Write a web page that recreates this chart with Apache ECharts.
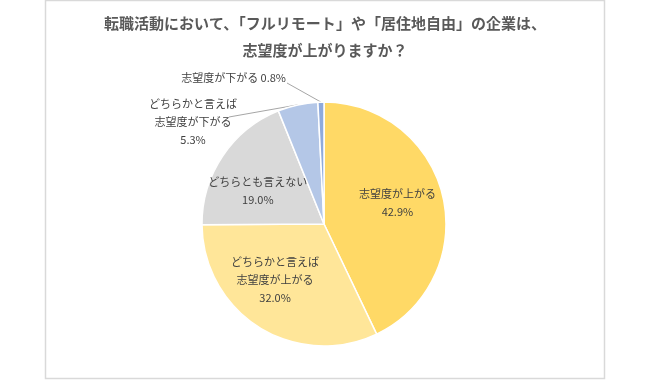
<!DOCTYPE html>
<html>
<head>
<meta charset="utf-8">
<script src="https://cdn.jsdelivr.net/npm/echarts@6/dist/echarts.min.js"></script>
<style>html,body{margin:0;padding:0;background:#fff}#c{width:650px;height:380px}</style>
</head>
<body>
<div id="c"></div>
<script>
const titleText = '転職活動において、「フルリモート」や「居住地自由」の企業は、\n志望度が上がりますか？';
const categories = ['志望度が上がる', 'どちらかと言えば\n志望度が上がる', 'どちらとも言えない', 'どちらかと言えば\n志望度が下がる', '志望度が下がる'];
const values = [42.9, 32.0, 19.0, 5.3, 0.8];

const sliceColors = ['#FFD966', '#FFE699', '#D9D9D9', '#B4C7E7', '#8FAADC'];
const FONT = '"Noto Sans CJK JP", "Noto Sans", sans-serif';

const chart = echarts.init(document.getElementById('c'), null, {renderer: 'canvas'});

const insideShift = [[11, -7], [-15, 2], [-13, 2]];

chart.setOption({
  animation: false,
  backgroundColor: '#fff',
  title: {
    text: titleText,
    left: 'center',
    top: 5,
    textStyle: {fontFamily: FONT, fontSize: 15, fontWeight: 'bold', color: '#595959', lineHeight: 27}
  },
  graphic: [{
    type: 'rect', silent: true, z: -1,
    shape: {x: 45.5, y: 0.5, width: 559, height: 378},
    style: {fill: 'none', stroke: '#D9D9D9', lineWidth: 1.5}
  }],
  series: [{
    type: 'pie',
    center: [324, 224],
    radius: 122,
    startAngle: 90,
    clockwise: true,
    itemStyle: {borderColor: '#fff', borderWidth: 1.5},
    label: {
      position: 'inside',
      fontFamily: FONT, fontSize: 11, color: '#404040', lineHeight: 18,
      formatter: p => p.name + '\n' + p.value.toFixed(1) + '%'
    },
    labelLine: {show: false},
    labelLayout: function (p) {
      const i = p.dataIndex;
      if (i < 3) {
        return {dx: insideShift[i][0], dy: insideShift[i][1]};
      }
      const start = p.labelLinePoints ? p.labelLinePoints[0] : null;
      if (i === 3) {
        const end = [229, 117];
        return {x: 193, y: 122, align: 'center', verticalAlign: 'middle',
          labelLinePoints: start ? [start, end, end] : undefined};
      }
      const end = [287, 83];
      return {x: 286, y: 78, align: 'right', verticalAlign: 'middle',
        labelLinePoints: start ? [start, end, end] : undefined};
    },
    data: categories.map((c, i) => {
      const d = {name: c, value: values[i], itemStyle: {color: sliceColors[i]}};
      if (i >= 3) {
        d.label = {
          position: 'outside',
          formatter: i === 4 ? (p => p.name + ' ' + p.value.toFixed(1) + '%') : (p => p.name + '\n' + p.value.toFixed(1) + '%')
        };
        d.labelLine = {show: true, length: 10, length2: 10, lineStyle: {color: '#A6A6A6', width: 1}};
      }
      return d;
    })
  }]
});
</script>
</body>
</html>
